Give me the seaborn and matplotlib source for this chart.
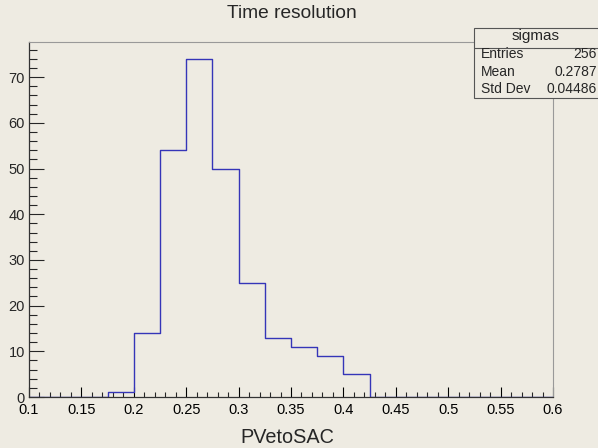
import numpy as np
import pandas as pd
import matplotlib
matplotlib.use("Agg")
import matplotlib.pyplot as plt
import matplotlib.transforms as mtrans
import seaborn as sns
from matplotlib.ticker import MultipleLocator
from matplotlib.patches import Rectangle
from matplotlib.lines import Line2D

# Data
bin_lo = [0.175, 0.200, 0.225, 0.250, 0.275, 0.300, 0.325, 0.350, 0.375, 0.400]
counts = [1, 14, 54, 74, 50, 25, 13, 11, 9, 5]
edges = [round(0.1 + 0.025 * i, 3) for i in range(21)]
title = "Time resolution"
xlabel = "PVetoSAC"
stats_name = "sigmas"
stats_rows = [("Entries", "256"), ("Mean", "0.2787"), ("Std Dev", "0.04486")]

sns.set_style("ticks")
plt.rcParams['font.family'] = ['Liberation Sans', 'DejaVu Sans']
bg = "#eeebe2"
plt.rcParams['figure.facecolor'] = bg
plt.rcParams['axes.facecolor'] = bg

W, H = 598, 448
fig = plt.figure(figsize=(W / 100, H / 100), dpi=100)
ax = fig.add_axes([29 / W, 1 - 397 / H, (553 - 29) / W, (397 - 42) / H])

df = pd.DataFrame({"x": [b + 0.0125 for b in bin_lo], "w": counts})
sns.histplot(data=df, x="x", weights="w", bins=edges, element="step",
             fill=False, color="#3535b8", linewidth=1.0, ax=ax)

ax.set_xlim(0.1, 0.6)
ax.set_ylim(0, 77.7)
ax.xaxis.set_major_locator(MultipleLocator(0.05))
ax.xaxis.set_minor_locator(MultipleLocator(0.01))
ax.yaxis.set_major_locator(MultipleLocator(10))
ax.yaxis.set_minor_locator(MultipleLocator(2))
ax.set_xticks([round(0.1 + 0.05 * i, 2) for i in range(11)])
ax.set_xticklabels(["0.1", "0.15", "0.2", "0.25", "0.3", "0.35", "0.4", "0.45", "0.5", "0.55", "0.6"])
ax.tick_params(axis="x", which="major", direction="in", length=7, width=0.8, labelsize=10.5, pad=4, colors="black")
ax.tick_params(axis="x", which="minor", direction="in", length=3.5, width=0.8)
ax.tick_params(axis="y", which="major", direction="in", length=11, width=0.8, labelsize=10.5, pad=3)
ax.tick_params(axis="y", which="minor", direction="in", length=5.5, width=0.8)
ax.set_xlabel("")
ax.set_ylabel("")
for s in ["top", "right"]:
    ax.spines[s].set_visible(True)
    ax.spines[s].set_color("#999999")
for s in ["left", "bottom"]:
    ax.spines[s].set_color("#333333")
    ax.spines[s].set_linewidth(0.9)

fig.canvas.draw()
ylabels = ax.get_yticklabels()
if ylabels:
    ylabels[0].set_transform(ylabels[0].get_transform() +
                             mtrans.ScaledTranslation(-1 / 100, 3 / 100, fig.dpi_scale_trans))

fig.text(292 / W, 1 - 14 / H, title, ha="center", va="center", fontsize=13.8)
fig.text(287 / W, 1 - 437 / H, xlabel, ha="center", va="center", fontsize=14.3)

# stats box
x0, y0, x1, y1 = 474, 28, 600, 98
fig.add_artist(Rectangle((x0 / W, 1 - y1 / H), (x1 - x0) / W, (y1 - y0) / H,
                         transform=fig.transFigure, facecolor=bg, edgecolor="#555555", linewidth=0.8))
fig.add_artist(Line2D([x0 / W, x1 / W], [1 - 48 / H, 1 - 48 / H], transform=fig.transFigure,
                      color="#555555", linewidth=0.8))
fig.text(536 / W, 1 - 36 / H, stats_name, ha="center", va="center", fontsize=11)
for i, (k, v) in enumerate(stats_rows):
    yy = 1 - (54 + i * 17.5) / H
    fig.text(481 / W, yy, k, ha="left", va="center", fontsize=10)
    fig.text(597 / W, yy, v, ha="right", va="center", fontsize=10)

fig.savefig("out.png", dpi=100, facecolor=bg)
